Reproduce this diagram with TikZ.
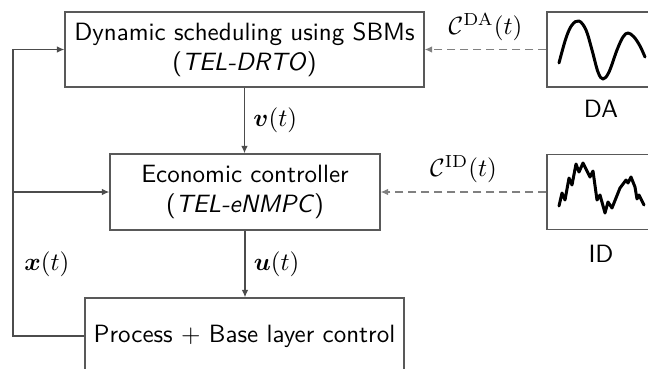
\documentclass[tikz,border=0pt]{standalone}
\usepackage{amsmath}
\usepackage{tikz}
\usetikzlibrary{arrows.meta}

\begin{document}
\begin{tikzpicture}[x=0.4pt,y=-0.4pt,
    block/.style={draw=black!65,line width=0.5pt,align=center,font=\sffamily,inner sep=2pt},
    sig/.style={draw=black!70,line width=0.5pt,-{Latex[length=3pt,width=2.6pt]}},
    fcst/.style={draw=black!50,line width=0.5pt,dash pattern=on 3.2pt off 2pt,-{Latex[length=3pt,width=2.6pt]}},
    curve/.style={line width=1.2pt,line join=round,line cap=round}]
                \useasboundingbox (0,0) rectangle (648,368);
                \clip (0,0) rectangle (648,368);

                \node[block,minimum width=143.6pt,minimum height=30pt] (sched) at (244.5,49.5) {Dynamic scheduling using SBMs\\(\textit{TEL-DRTO})};
                \node[block,minimum width=108pt,minimum height=30.4pt] (ctrl) at (245,192) {Economic controller\\(\textit{TEL-eNMPC})};
                \node[block,minimum width=127.6pt,minimum height=30.4pt] (plant) at (244.5,336) {Process + Base layer control};
                \node[block,minimum width=48pt,minimum height=30pt] (da) at (607,49.5) {};
                \node[block,minimum width=48pt,minimum height=30pt] (id) at (607,192) {};
                \node[font=\sffamily,below=1.5pt,xshift=-2.4pt] (dalbl) at (da.south) {DA};
                \node[font=\sffamily,below=2.5pt,xshift=-2.4pt] (idlbl) at (id.south) {ID};

                \draw[curve] plot[smooth,tension=0.6] coordinates {(559,63) (566,38) (572,25) (579,21) (586,30) (592,50) (598,72) (603,79) (609,72) (617,50) (623,37) (628,33) (634,37) (640,46) (645,57)};
                \draw[curve] plot coordinates {(559,206) (562,193) (565,200) (569,178) (572,185) (576,164) (579,172) (583,163) (590,177) (593,171) (597,200) (600,195) (605,213) (608,202) (612,208) (620,188) (626,180) (628,183) (631,177) (635,187) (637,199) (639,195) (644,205)};

                \draw[sig] (sched.south) -- (sched.south |- ctrl.north) node[midway,right] {$\boldsymbol{v}(t)$};
                \draw[sig] (ctrl.south) -- (ctrl.south |- plant.north) node[midway,right] {$\boldsymbol{u}(t)$};

                \draw[fcst] (da.west) -- (da.west -| sched.east) node[midway,above] {$\mathcal{C}^{\mathrm{DA}}(t)$};
                \draw[fcst] (id.west) -- (id.west -| ctrl.east) node[midway,above] {$\mathcal{C}^{\mathrm{ID}}(t)$};

                \coordinate (fb) at (13,336);
                \draw[sig] (plant.west) -- (fb) |- (sched.west);
                \draw[sig] (fb |- ctrl.west) -- (ctrl.west);
                \path (fb) -- (fb |- ctrl.west) node[midway,right,xshift=1pt] {$\boldsymbol{x}(t)$};
            \end{tikzpicture}
\end{document}
